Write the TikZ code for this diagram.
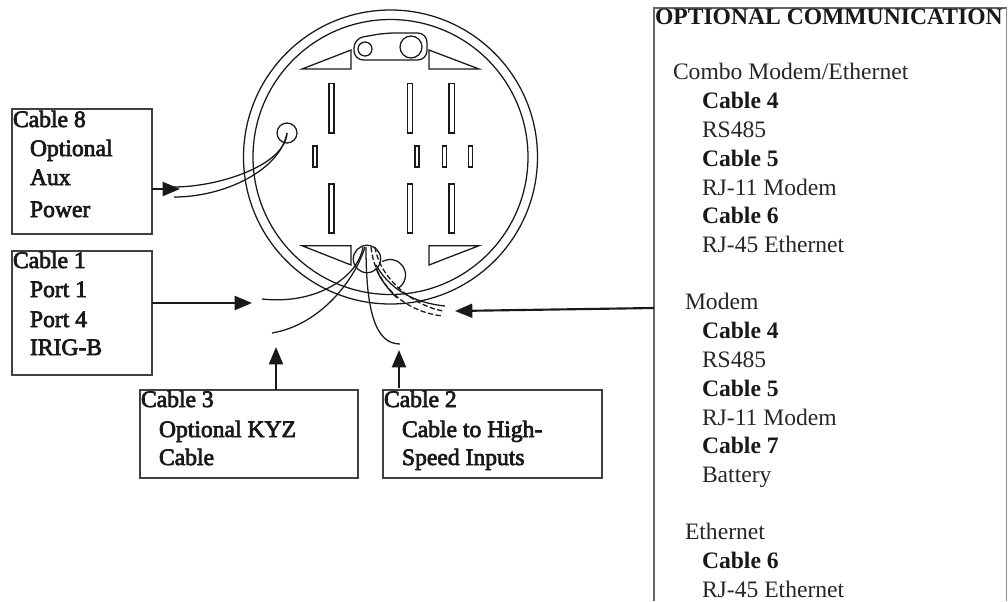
\documentclass[tikz,border=0pt]{standalone}
\usepackage{fontspec}
\setmainfont{Liberation Serif}
\newfontfamily\fakeb[FakeBold=3]{Liberation Serif}
\usetikzlibrary{arrows.meta}
\tikzset{
 px/.style={x=0.75pt,y=-0.75pt},
 thinln/.style={draw=black!90,line width=0.95pt},
 boxn/.style={draw=black!75,line width=0.8pt,anchor=north west,inner sep=0pt,outer sep=0pt},
 arr/.style={draw=black!90,line width=1.6pt,-{Triangle[length=13pt,width=10.5pt]},shorten >=0pt},
 txt/.style={anchor=base west,inner sep=0pt,outer sep=0pt,font=\fontsize{17.7pt}{20pt}\selectfont,text=black!85},
 ltxt/.style={txt,font=\fontsize{17.7pt}{20pt}\fakeb\selectfont,text=black!90},
 btxt/.style={txt,font=\fontsize{17.7pt}{20pt}\bfseries\selectfont,text=black!90},
}
\begin{document}
\begin{tikzpicture}[px]
\useasboundingbox (0,0) rectangle (1008,601);
% meter body
\draw[thinln] (390.5,157) circle[radius=147];
\draw[thinln] (390.5,157) circle[radius=137.5];
% top tab
\draw[thinln,rounded corners=7pt] (354,60) -- (354,38.5) -- (385,33) -- (427,33) -- (427,60) -- cycle;
\draw[thinln] (365,49) circle[radius=7];
\draw[thinln] (411,47) circle[radius=11];
% triangles
\draw[thinln] (302,69) -- (351,69) -- (351,50) -- cycle;
\draw[thinln] (429,50) -- (429,69) -- (479,69) -- cycle;
\draw[thinln] (302,245.7) -- (351,245.7) -- (351,265) -- cycle;
\draw[thinln] (429,245.7) -- (479,245.7) -- (429,265) -- cycle;
% slots
\foreach \xa/\xb in {329/334,407.7/412.7,449/454.3}{
 \draw[thinln] (\xa,83.5) rectangle (\xb,133);
 \draw[thinln] (\xa,184) rectangle (\xb,233);
}
\foreach \xa/\xb in {313/317,415/419,442.7/446.3,468.7/472.3}{
 \draw[thinln] (\xa,146) rectangle (\xb,167);
}
% holes
\draw[thinln] (287,133) circle[radius=10];
\draw[thinln] (367,259) circle[radius=13.7];
\draw[thinln] (382.25,261.6) arc[start angle=-120,end angle=58,radius=15.5];
% aux cable
\draw[thinln] (173,187) .. controls (220,187) and (285,165) .. (287,133);
\draw[thinln] (174,197) .. controls (225,197) and (280,170) .. (287,133);
% cables
\draw[thinln] (262,299) .. controls (315,305) and (358,278) .. (363,247);
\draw[thinln] (272,333) .. controls (320,325) and (355,280) .. (365,247);
\draw[thinln] (400,344) .. controls (375,344) and (366,310) .. (366,247);
\draw[thinln] (376,265) .. controls (390,290) and (415,303) .. (445,306);
\draw[thinln] (376,268) .. controls (380,280) and (390,291) .. (397,298);
\draw[thinln,dash pattern=on 4pt off 1.8pt] (371,247) .. controls (375,285) and (405,312) .. (443,316);
\draw[thinln,dash pattern=on 4pt off 1.8pt] (375,247) .. controls (380,280) and (415,306) .. (443,311);
% boxes
\node[boxn,minimum width=105pt,minimum height=93.75pt] (b8) at (12,109) {};
\node[boxn,minimum width=105pt,minimum height=93pt] (b1) at (12,251) {};
\node[boxn,minimum width=163.5pt,minimum height=66pt] (b3) at (140,390) {};
\node[boxn,minimum width=164.25pt,minimum height=66pt] (b2) at (383,390) {};
\draw[draw=black!60,line width=1.1pt] (654,601) -- (654,8) -- (1006.5,8);
\draw[draw=black!45,line width=0.75pt] (1006.5,8) -- (1006.5,601);
\coordinate (rb) at (654,308);
% arrows
\coordinate (t8) at (180,189);
\coordinate (t1) at (252,303);
\coordinate (t3) at (276,347);
\coordinate (t2) at (399,350);
\coordinate (s2) at (399,388);
\coordinate (tr) at (455,311);
\draw[arr] (t8 -| b8.east) -- (t8);
\draw[arr] (t1 -| b1.east) -- (t1);
\draw[arr] (t3 |- b3.north) -- (t3);
\draw[arr] (s2) -- (t2);
\draw[arr] (rb) -- (tr);
% left labels
\node[ltxt] (l81) at (13,127) {Cable 8};
\node[ltxt] (l82) at (30,156) {Optional};
\node[ltxt] (l83) at (30,185) {Aux};
\node[ltxt] (l84) at (30,217) {Power};
\node[ltxt] (l11) at (13,268) {Cable 1};
\node[ltxt] (l12) at (30,297) {Port 1};
\node[ltxt] (l13) at (30,327) {Port 4};
\node[ltxt] (l14) at (30,355) {IRIG-B};
\node[ltxt] (l31) at (141,407) {Cable 3};
\node[ltxt] (l32) at (159,437) {Optional KYZ};
\node[ltxt] (l33) at (159,465) {Cable};
\node[ltxt] (l21) at (384,407) {Cable 2};
\node[ltxt] (l22) at (402,437) {Cable to High-};
\node[ltxt] (l23) at (402,465) {Speed Inputs};
% right panel
\node[btxt] (r0) at (655,24) {OPTIONAL COMMUNICATION};
\node[txt] (r1) at (673,79) {Combo Modem/Ethernet};
\node[btxt] (r2) at (702,108) {Cable 4};
\node[txt] (r3) at (702,137) {RS485};
\node[btxt] (r4) at (702,166) {Cable 5};
\node[txt] (r5) at (702,195) {RJ-11 Modem};
\node[btxt] (r6) at (702,223) {Cable 6};
\node[txt] (r7) at (702,252) {RJ-45 Ethernet};
\node[txt] (r8) at (685,309) {Modem};
\node[btxt] (r9) at (702,338) {Cable 4};
\node[txt] (r10) at (702,367) {RS485};
\node[btxt] (r11) at (702,396) {Cable 5};
\node[txt] (r12) at (702,425) {RJ-11 Modem};
\node[btxt] (r13) at (702,453) {Cable 7};
\node[txt] (r14) at (702,482) {Battery};
\node[txt] (r15) at (685,539) {Ethernet};
\node[btxt] (r16) at (702,568) {Cable 6};
\node[txt] (r17) at (702,597) {RJ-45 Ethernet};
\end{tikzpicture}
\end{document}
